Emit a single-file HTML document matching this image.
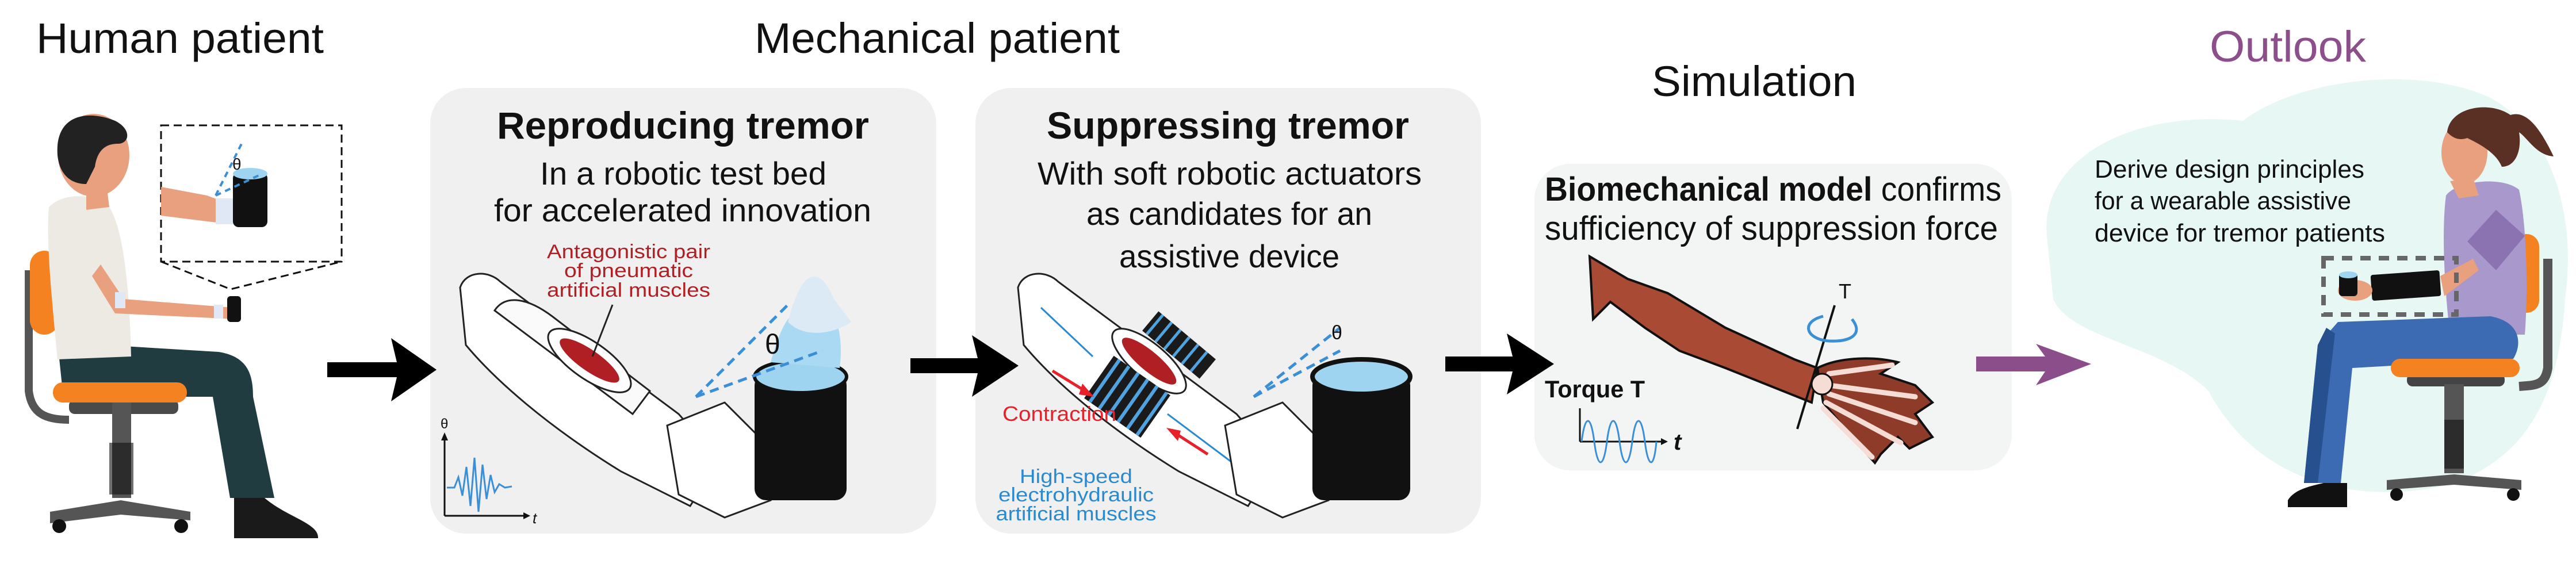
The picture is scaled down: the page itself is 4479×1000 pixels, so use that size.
<!DOCTYPE html>
<html><head><meta charset="utf-8"><style>
html,body{margin:0;padding:0;background:#fff;}
svg{display:block;}
text{font-family:"Liberation Sans",sans-serif;}
</style></head><body>
<svg width="4479" height="1000" viewBox="0 0 4479 1000" xmlns="http://www.w3.org/2000/svg">
<!-- Section titles -->
<text x="63" y="92" font-size="74" textLength="500" lengthAdjust="spacingAndGlyphs" fill="#111">Human patient</text>
<text x="1312" y="92" font-size="74" textLength="635" lengthAdjust="spacingAndGlyphs" fill="#111">Mechanical patient</text>
<text x="2872" y="167" font-size="74" textLength="356" lengthAdjust="spacingAndGlyphs" fill="#111">Simulation</text>
<text x="3842" y="107" font-size="76" textLength="272" lengthAdjust="spacingAndGlyphs" fill="#8c4f8c">Outlook</text>

<!-- Outlook cloud -->
<path d="M3560,420 C3540,280 3700,190 3900,210 C3990,140 4200,110 4330,170 C4440,230 4480,380 4460,520 C4450,680 4400,800 4250,845 C4080,880 3920,830 3840,680 C3760,600 3600,590 3570,520 Z" fill="#e7f7f4"/>

<!-- Panels -->
<rect x="748" y="153" width="880" height="775" rx="62" fill="#f0f0f0"/>
<rect x="1696" y="153" width="879" height="775" rx="62" fill="#f0f0f0"/>
<rect x="2668" y="285" width="830" height="533" rx="62" fill="#f3f5f4"/>

<!-- Arrows -->
<g fill="#000">
<polygon points="569,630 690,630 680,588 759,643 680,698 690,656 569,656"/>
<polygon points="1583,623 1700,623 1690,583 1771,636 1690,690 1700,649 1583,649"/>
<polygon points="2513,620 2630,620 2620,580 2702,633 2620,686 2630,646 2513,646"/>
</g>
<polygon points="3436,620 3556,620 3540,598 3636,633 3540,670 3556,646 3436,646" fill="#8b4e8a"/>

<!-- Panel 1 text -->
<text x="864" y="241" font-size="66" font-weight="bold" textLength="647" lengthAdjust="spacingAndGlyphs" fill="#111">Reproducing tremor</text>
<text x="939" y="321" font-size="56" textLength="498" lengthAdjust="spacingAndGlyphs" fill="#111">In a robotic test bed</text>
<text x="859" y="385" font-size="56" textLength="656" lengthAdjust="spacingAndGlyphs" fill="#111">for accelerated innovation</text>
<g fill="#b01f24" font-size="34" text-anchor="middle">
<text x="1093" y="449" textLength="284" lengthAdjust="spacingAndGlyphs">Antagonistic pair</text>
<text x="1093" y="482" textLength="224" lengthAdjust="spacingAndGlyphs">of pneumatic</text>
<text x="1093" y="516" textLength="284" lengthAdjust="spacingAndGlyphs">artificial  muscles</text>
</g>
<!-- Panel 1 drawing -->
<g stroke="#222" stroke-width="3" fill="#fff">
<path d="M800,500 C810,470 850,470 870,490 L1180,720 L1250,800 L1200,880 L1080,820 C950,740 860,660 810,600 Z"/>
<path d="M860,540 C880,510 920,520 960,550 L1130,680 L1100,720 Z" fill="#fafafa"/>
<ellipse cx="1025" cy="627" rx="85" ry="32" transform="rotate(35 1025 627)"/>
</g>
<ellipse cx="1025" cy="627" rx="62" ry="18" transform="rotate(35 1025 627)" fill="#b01f24"/>
<line x1="1065" y1="530" x2="1030" y2="620" stroke="#222" stroke-width="3"/>
<path d="M1160,740 L1260,700 L1320,760 L1340,870 L1260,900 L1180,860 Z" fill="#fff" stroke="#222" stroke-width="3"/>
<rect x="1312" y="650" width="160" height="220" rx="20" fill="#111"/>
<ellipse cx="1392" cy="655" rx="80" ry="28" fill="#9fd4f0" stroke="#111" stroke-width="6"/>
<path d="M1340,630 C1360,560 1380,520 1410,560 C1440,510 1470,560 1460,640 Z" fill="#a9d9f3"/>
<path d="M1370,560 C1390,480 1420,450 1450,520 L1480,560 C1450,580 1400,590 1370,560 Z" fill="#dbeaf5"/>
<g stroke="#3a8fd6" stroke-width="5" stroke-dasharray="16,10" fill="none">
<line x1="1210" y1="690" x2="1370" y2="530"/>
<line x1="1210" y1="690" x2="1430" y2="610"/>
</g>
<text x="1330" y="615" font-size="48" fill="#111">θ</text>
<g stroke="#111" stroke-width="3" fill="none">
<line x1="773" y1="897" x2="915" y2="897"/><line x1="773" y1="897" x2="773" y2="760"/>
</g>
<polygon points="922,897 910,891 910,903" fill="#111"/>
<polygon points="773,752 767,766 779,766" fill="#111"/>
<text x="766" y="745" font-size="24" fill="#111">θ</text>
<text x="926" y="910" font-size="26" font-style="italic" fill="#111">t</text>
<polyline points="777,848 790,848 797,830 804,862 811,812 818,880 825,796 832,890 839,808 846,868 853,826 860,856 868,842 878,848 890,846" fill="none" stroke="#3a8fd6" stroke-width="3"/>

<!-- Panel 2 text -->
<text x="1820" y="241" font-size="66" font-weight="bold" textLength="630" lengthAdjust="spacingAndGlyphs" fill="#111">Suppressing tremor</text>
<text x="1804" y="321" font-size="56" textLength="668" lengthAdjust="spacingAndGlyphs" fill="#111">With soft robotic actuators</text>
<text x="1889" y="391" font-size="56" textLength="497" lengthAdjust="spacingAndGlyphs" fill="#111">as candidates for an</text>
<text x="1946" y="465" font-size="56" textLength="383" lengthAdjust="spacingAndGlyphs" fill="#111">assistive device</text>
<!-- Panel 2 drawing -->
<g stroke="#222" stroke-width="3" fill="#fff">
<path d="M1770,500 C1780,470 1820,470 1840,490 L2150,720 L2220,800 L2170,880 L2050,820 C1920,740 1830,660 1780,600 Z"/>
<ellipse cx="1998" cy="628" rx="80" ry="30" transform="rotate(40 1998 628)"/>
</g>
<ellipse cx="1998" cy="628" rx="60" ry="17" transform="rotate(40 1998 628)" fill="#b01f24"/>
<g transform="rotate(35 1960 690)">
<rect x="1900" y="645" width="120" height="90" fill="#1a1a1a"/>
<g stroke="#4fa3e0" stroke-width="6"><line x1="1912" y1="645" x2="1912" y2="735"/><line x1="1932" y1="645" x2="1932" y2="735"/><line x1="1952" y1="645" x2="1952" y2="735"/><line x1="1972" y1="645" x2="1972" y2="735"/><line x1="1992" y1="645" x2="1992" y2="735"/><line x1="2012" y1="645" x2="2012" y2="735"/></g>
</g>
<g transform="rotate(40 2050 600)">
<rect x="1985" y="578" width="130" height="44" fill="#1a1a1a"/>
<g stroke="#4fa3e0" stroke-width="5"><line x1="1995" y1="578" x2="1995" y2="622"/><line x1="2015" y1="578" x2="2015" y2="622"/><line x1="2035" y1="578" x2="2035" y2="622"/><line x1="2055" y1="578" x2="2055" y2="622"/><line x1="2075" y1="578" x2="2075" y2="622"/><line x1="2095" y1="578" x2="2095" y2="622"/></g>
</g>
<g stroke="#2a8ad0" stroke-width="3"><line x1="1810" y1="535" x2="1900" y2="620"/><line x1="2030" y1="720" x2="2150" y2="810"/></g>
<g stroke="#e8202a" stroke-width="5" fill="none"><line x1="1830" y1="645" x2="1895" y2="685"/><line x1="2100" y1="790" x2="2035" y2="748"/></g>
<polygon points="1902,690 1882,667 1876,686" fill="#e8202a"/><polygon points="2028,744 2048,767 2053,749" fill="#e8202a"/>
<text x="1743" y="732" font-size="36" fill="#e8202a" textLength="198" lengthAdjust="spacingAndGlyphs">Contraction</text>
<g fill="#2a8ad0" font-size="34" text-anchor="middle">
<text x="1871" y="840" textLength="196" lengthAdjust="spacingAndGlyphs">High-speed</text>
<text x="1871" y="872" textLength="270" lengthAdjust="spacingAndGlyphs">electrohydraulic</text>
<text x="1871" y="905" textLength="279" lengthAdjust="spacingAndGlyphs">artificial muscles</text>
</g>
<path d="M2130,740 L2230,700 L2290,760 L2310,870 L2230,900 L2150,860 Z" fill="#fff" stroke="#222" stroke-width="3"/>
<rect x="2282" y="650" width="170" height="220" rx="20" fill="#111"/>
<ellipse cx="2367" cy="655" rx="85" ry="30" fill="#9fd4f0" stroke="#111" stroke-width="8"/>
<g stroke="#3a8fd6" stroke-width="5" stroke-dasharray="16,10" fill="none">
<line x1="2180" y1="690" x2="2330" y2="570"/><line x1="2180" y1="690" x2="2330" y2="610"/>
</g>
<text x="2315" y="590" font-size="34" fill="#111">θ</text>

<!-- Panel 3 -->
<text x="2686" y="349" font-size="58" textLength="794" lengthAdjust="spacingAndGlyphs" fill="#111"><tspan font-weight="bold">Biomechanical model</tspan> confirms</text>
<text x="2686" y="417" font-size="58" textLength="788" lengthAdjust="spacingAndGlyphs" fill="#111">sufficiency of suppression force</text>
<path d="M2764,446 L2830,485 L2900,510 L3000,570 L3120,625 L3160,640 L3150,700 L3100,680 L3000,640 L2920,610 L2860,570 L2800,525 L2770,555 Z" fill="#a84a34" stroke="#111" stroke-width="4"/>
<path d="M3160,640 C3200,620 3260,620 3300,630 L3270,650 L3330,670 L3360,700 L3330,720 L3360,760 L3320,780 L3300,760 L3270,790 L3260,805 L3220,760 L3170,700 Z" fill="#8e3b2a" stroke="#111" stroke-width="4"/>
<g stroke="#f5dcd5" stroke-width="9" stroke-linecap="round"><line x1="3180" y1="650" x2="3290" y2="635"/><line x1="3180" y1="670" x2="3330" y2="690"/><line x1="3180" y1="685" x2="3330" y2="735"/><line x1="3175" y1="700" x2="3305" y2="770"/><line x1="3170" y1="710" x2="3255" y2="795"/></g>
<circle cx="3168" cy="668" r="18" fill="#f5dcd5" stroke="#111" stroke-width="3"/>
<line x1="3190" y1="531" x2="3125" y2="746" stroke="#111" stroke-width="4"/>
<path d="M3220,555 C3240,580 3220,595 3180,593 C3140,590 3130,560 3170,550" fill="none" stroke="#3a8fd6" stroke-width="5"/>
<text x="3197" y="519" font-size="36" fill="#111">T</text>
<text x="2686" y="691" font-size="42" font-weight="bold" textLength="174" lengthAdjust="spacingAndGlyphs" fill="#111">Torque T</text>
<line x1="2747" y1="768" x2="2890" y2="768" stroke="#111" stroke-width="3"/><line x1="2747" y1="768" x2="2747" y2="710" stroke="#111" stroke-width="3"/>
<polygon points="2900,768 2888,762 2888,774" fill="#111"/>
<text x="2910" y="782" font-size="40" font-weight="bold" font-style="italic" fill="#111">t</text>
<path d="M2750,768 C2756,720 2766,720 2772,768 S2788,816 2794,768 S2810,720 2816,768 S2832,816 2838,768 S2854,720 2860,768 S2876,816 2880,768" fill="none" stroke="#3a8fd6" stroke-width="3"/>

<!-- Outlook text -->
<g font-size="44" fill="#111">
<text x="3642" y="309" textLength="469" lengthAdjust="spacingAndGlyphs">Derive design principles</text>
<text x="3642" y="364" textLength="446" lengthAdjust="spacingAndGlyphs">for a wearable assistive</text>
<text x="3642" y="420" textLength="505" lengthAdjust="spacingAndGlyphs">device for tremor patients</text>
</g>

<!-- Human patient (man) -->
<path d="M50,470 L50,680 C55,720 80,730 120,730" fill="none" stroke="#555" stroke-width="14"/>
<rect x="52" y="436" width="50" height="146" rx="25" fill="#f58220"/>
<rect x="120" y="695" width="190" height="25" rx="10" fill="#4a4a4a"/>
<rect x="195" y="700" width="33" height="166" fill="#555"/>
<rect x="190" y="770" width="42" height="90" fill="#111" opacity="0.6"/>
<path d="M87,890 L210,870 L331,890 L331,905 L210,895 L87,910 Z" fill="#555"/>
<circle cx="103" cy="915" r="12" fill="#111"/><circle cx="315" cy="915" r="12" fill="#111"/>
<path d="M100,595 L380,612 C430,620 440,650 440,690 L477,866 L400,866 L370,690 L110,690 Z" fill="#203c40"/>
<rect x="92" y="665" width="233" height="35" rx="17" fill="#f58220"/>
<path d="M407,866 L460,866 C500,900 555,910 553,936 L407,936 Z" fill="#1a1a1a"/>
<path d="M85,360 C110,335 160,335 190,360 C215,400 225,500 228,620 L100,625 C90,520 80,420 85,360 Z" fill="#ede9e3"/>
<path d="M150,320 L185,320 L190,360 L150,365 Z" fill="#e8a07e"/>
<path d="M175,460 L215,520 L405,535 L410,555 L200,545 L160,480 Z" fill="#e8a07e"/>
<rect x="200" y="508" width="18" height="28" fill="#dfe8f4"/><rect x="372" y="530" width="16" height="24" fill="#dfe8f4"/>
<rect x="395" y="515" width="24" height="45" rx="6" fill="#111"/>
<ellipse cx="163" cy="270" rx="62" ry="72" fill="#e8a07e"/>
<path d="M100,270 C95,200 150,190 200,210 C230,225 225,250 205,250 C190,250 170,255 165,290 L150,320 C120,320 103,300 100,270 Z" fill="#222"/>
<!-- inset -->
<rect x="280" y="218" width="314" height="237" fill="#fff" stroke="#111" stroke-width="3" stroke-dasharray="14,8"/>
<polyline points="280,455 401,503 594,455" fill="none" stroke="#111" stroke-width="3" stroke-dasharray="14,8"/>
<path d="M280,325 L360,340 L440,370 L450,395 L360,385 L280,375 Z" fill="#e8a07e"/>
<rect x="375" y="345" width="35" height="45" fill="#dfe8f4"/>
<rect x="405" y="300" width="60" height="95" rx="10" fill="#111"/>
<ellipse cx="435" cy="302" rx="30" ry="10" fill="#9fd4f0"/>
<g stroke="#3a8fd6" stroke-width="4" stroke-dasharray="10,8"><line x1="375" y1="340" x2="420" y2="250"/><line x1="375" y1="340" x2="450" y2="305"/></g>
<text x="404" y="295" font-size="28" fill="#111">θ</text>

<!-- Outlook woman -->
<path d="M4430,450 L4430,640 C4425,670 4410,670 4380,672" fill="none" stroke="#555" stroke-width="16"/>
<rect x="4370" y="407" width="45" height="137" rx="22" fill="#f58220"/>
<rect x="4185" y="650" width="170" height="22" rx="10" fill="#444"/>
<rect x="4250" y="668" width="34" height="155" fill="#555"/>
<rect x="4250" y="730" width="34" height="85" fill="#111" opacity="0.6"/>
<path d="M4150,835 L4267,825 L4384,835 L4384,852 L4267,843 L4150,852 Z" fill="#555"/>
<circle cx="4167" cy="860" r="11" fill="#111"/><circle cx="4370" cy="860" r="11" fill="#111"/>
<path d="M4253,340 C4270,315 4350,305 4380,330 C4395,400 4395,520 4390,582 L4260,582 C4250,500 4245,400 4253,340 Z" fill="#a898cc"/>
<path d="M4290,420 L4340,365 L4390,410 L4340,470 Z" fill="#8b72b0"/>
<path d="M4065,560 L4330,550 C4385,560 4385,600 4370,624 L4090,640 L4070,840 L4006,840 L4030,600 Z" fill="#3d6bb3"/>
<path d="M4030,600 L4045,570 L4060,580 L4030,840 L4006,840 Z" fill="#27508e"/>
<rect x="4157" y="624" width="224" height="32" rx="16" fill="#f58220"/>
<path d="M3978,870 C3990,850 4020,845 4040,840 L4081,840 L4081,882 L3978,882 Z" fill="#111"/>
<rect x="4123" y="474" width="120" height="45" rx="4" fill="#111" transform="rotate(-4 4183 496)"/>
<path d="M4243,480 L4300,450 L4310,470 L4250,515 Z" fill="#e8a07e"/>
<ellipse cx="4095" cy="505" rx="30" ry="18" fill="#e8a07e"/>
<rect x="4067" y="475" width="32" height="40" rx="6" fill="#111"/>
<ellipse cx="4083" cy="478" rx="16" ry="6" fill="#9fd4f0"/>
<rect x="4040" y="449" width="231" height="98" fill="none" stroke="#666" stroke-width="8" stroke-dasharray="18,14"/>
<ellipse cx="4285" cy="265" rx="40" ry="55" fill="#e8a07e"/>
<path d="M4260,315 L4300,310 L4310,340 L4275,345 Z" fill="#e8a07e"/>
<path d="M4255,230 C4260,185 4330,175 4365,200 C4395,190 4420,230 4440,272 C4410,270 4395,240 4380,230 C4385,260 4375,290 4350,290 C4340,265 4310,250 4290,240 C4275,245 4265,240 4255,230 Z" fill="#5a3024"/>
</svg>
</body></html>
